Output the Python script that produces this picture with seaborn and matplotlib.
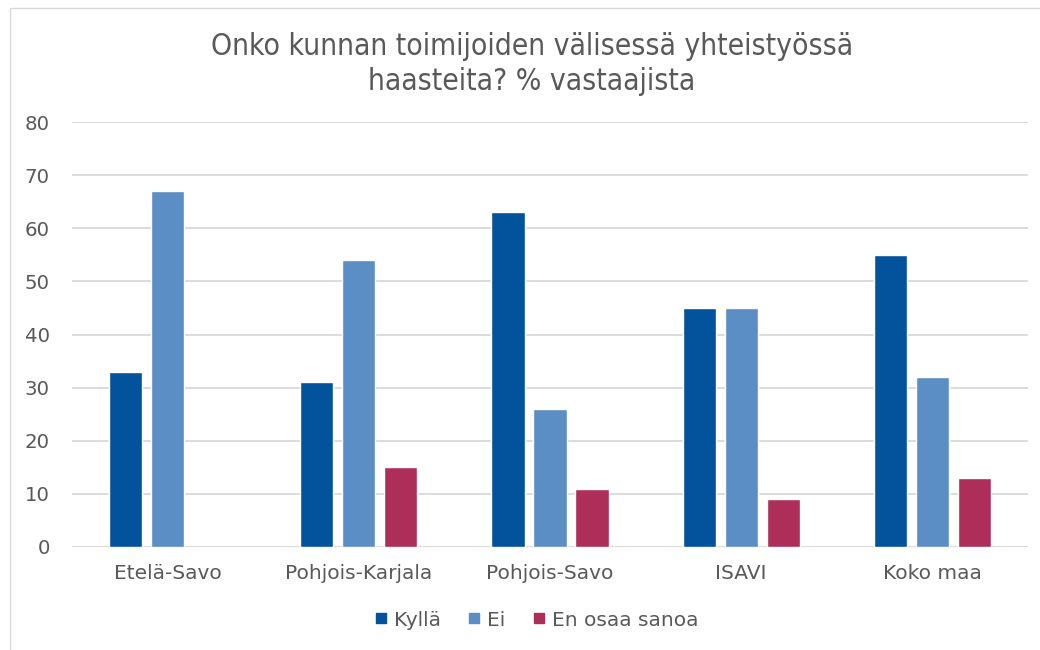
import numpy as np
import pandas as pd
import matplotlib
matplotlib.use("Agg")
import matplotlib.pyplot as plt
import seaborn as sns
from matplotlib.lines import Line2D

categories = ["Etelä-Savo", "Pohjois-Karjala", "Pohjois-Savo", "ISAVI", "Koko maa"]
series_names = ["Kyllä", "Ei", "En osaa sanoa"]
kylla = [33, 31, 63, 45, 55]
ei = [67, 54, 26, 45, 32]
eos = [np.nan, 15, 11, 9, 13]
colors = ["#02529C", "#5A8EC4", "#AD2F59"]
y_ticks = [0, 10, 20, 30, 40, 50, 60, 70, 80]
title = "Onko kunnan toimijoiden välisessä yhteistyössä\nhaasteita? % vastaajista"

rows = []
for name, vals in zip(series_names, [kylla, ei, eos]):
    for c, v in zip(categories, vals):
        rows.append({"Alue": c, "Vastaus": name, "Osuus": v})
df = pd.DataFrame(rows)

sns.set_theme(style="white")
plt.rcParams["font.family"] = ["DejaVu Sans"]

fig = plt.figure(figsize=(10.4, 6.5), dpi=100)
ax = fig.add_axes([72/1040, 1-547/650, (1028-72)/1040, (547-122)/650])

sns.barplot(data=df, x="Alue", y="Osuus", hue="Vastaus", order=categories,
            hue_order=series_names, palette=colors, width=0.66, gap=0.21,
            saturation=1, ax=ax, legend=False, err_kws={"linewidth": 0})

ax.set_xlim(-0.5, 4.5)
ax.set_ylim(0, 80)
ax.set_yticks(y_ticks)
ax.yaxis.grid(True, color="#D9D9D9", linewidth=1.3)
ax.set_axisbelow(True)
for s in ax.spines.values():
    s.set_visible(False)
ax.axhline(0, color="#D9D9D9", linewidth=1.3, zorder=0.5)
ax.set_xlabel("")
ax.set_ylabel("")
ax.tick_params(axis="both", length=0, labelsize=14.5, labelcolor="#595959")
ax.tick_params(axis="y", labelsize=14.2, pad=16)
ax.tick_params(axis="x", pad=12)

fig.text(532/1040, 1-64/650, title, ha="center", va="center",
         fontsize=21.5, color="#595959", linespacing=1.23,
         family="DejaVu Sans", fontstretch="condensed")

handles = [Line2D([], [], marker="s", linestyle="none", markersize=7,
                  markerfacecolor=c, markeredgecolor=c) for c in colors]
fig.legend(handles, series_names, loc="center", bbox_to_anchor=(536/1040, 1-620/650),
           ncol=3, frameon=False, fontsize=14.5, labelcolor="#595959",
           handlelength=0.7, handletextpad=0.3, columnspacing=1.3)

# chart border (top and left visible in the crop)
fig.add_artist(Line2D([10/1040, 10/1040], [0, 1-8/650], transform=fig.transFigure,
                      color="#D9D9D9", linewidth=1))
fig.add_artist(Line2D([10/1040, 1], [1-8/650, 1-8/650], transform=fig.transFigure,
                      color="#D9D9D9", linewidth=1))

fig.savefig("out.png", dpi=100, facecolor="white")
